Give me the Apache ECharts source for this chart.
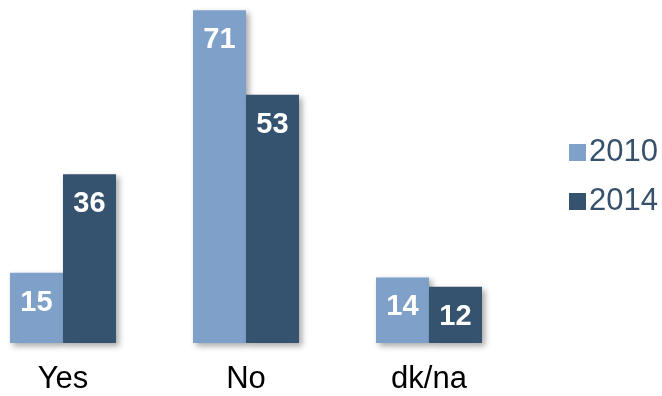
<!DOCTYPE html>
<html>
<head>
<meta charset="utf-8">
<script src="https://cdn.jsdelivr.net/npm/echarts@6/dist/echarts.min.js"></script>
<style>
  html, body { margin: 0; padding: 0; background: #fff; }
  #chart { width: 662px; height: 396px; }
</style>
</head>
<body>
<div id="chart"></div>
<script>
// answers by year
var categories = ['Yes', 'No', 'dk/na'];
var years = ['2010', '2014'];
var values2010 = [15, 71, 14];
var values2014 = [36, 53, 12];
var colorList = ['#7fa1c9', '#35536e'];

var fontFamily = 'Arial, "Liberation Sans", sans-serif';

function makeSeries(name, data, color) {
  return {
    name: name,
    type: 'bar',
    data: data,
    barWidth: 53,
    barGap: '0%',
    clip: false,
    itemStyle: {
      color: color,
      shadowColor: 'rgba(0,0,0,0.35)',
      shadowBlur: 6,
      shadowOffsetX: 3,
      shadowOffsetY: 3
    },
    label: {
      show: true,
      position: ['50%', 30],
      align: 'center',
      verticalAlign: 'middle',
      color: '#fff',
      fontWeight: 'bold',
      fontSize: 29,
      fontFamily: fontFamily
    }
  };
}

var option = {
  animation: false,
  color: colorList,
  grid: {
    left: -28.5,
    width: 549,
    top: 1,
    bottom: 53,
    outerBoundsMode: 'none'
  },
  legend: {
    orient: 'vertical',
    left: 564,
    top: 132,
    itemWidth: 17,
    itemHeight: 17,
    itemGap: 18,
    icon: 'rect',
    data: years,
    textStyle: {
      color: '#36516c',
      fontSize: 31,
      fontFamily: fontFamily,
      padding: [0, 0, 0, -2]
    }
  },
  xAxis: {
    type: 'category',
    data: categories,
    axisLine: { show: false },
    axisTick: { show: false },
    axisLabel: {
      color: '#000',
      fontSize: 31,
      fontFamily: fontFamily,
      margin: 21
    }
  },
  yAxis: {
    type: 'value',
    min: 0,
    max: 73,
    show: false,
    splitLine: { show: false }
  },
  series: [
    makeSeries(years[0], values2010, colorList[0]),
    makeSeries(years[1], values2014, colorList[1])
  ]
};

var chart = echarts.init(document.getElementById('chart'));
chart.setOption(option);
</script>
</body>
</html>
